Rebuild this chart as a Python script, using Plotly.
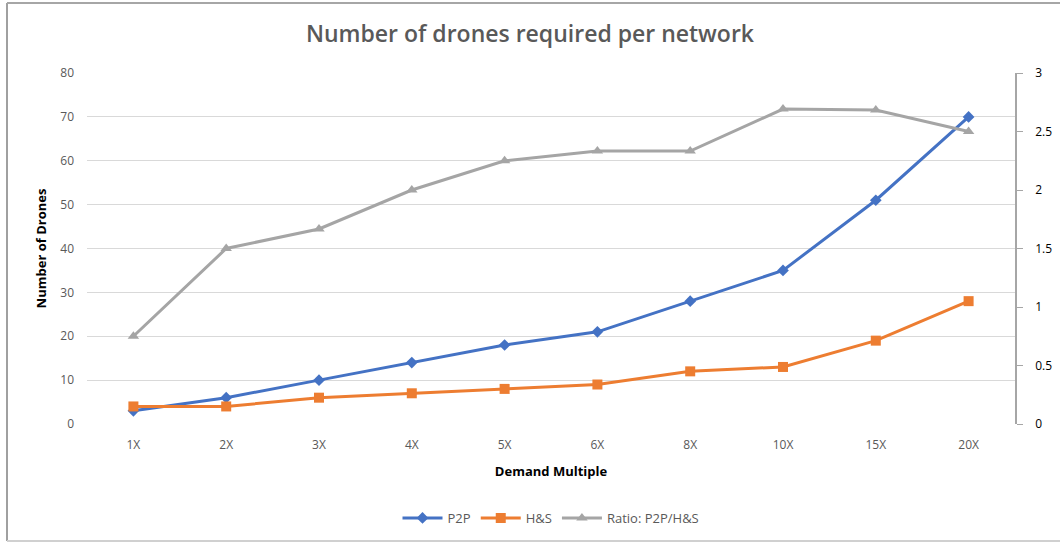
import plotly.graph_objects as go

categories = ["1X", "2X", "3X", "4X", "5X", "6X", "8X", "10X", "15X", "20X"]
p2p = [3, 6, 10, 14, 18, 21, 28, 35, 51, 70]
hs = [4, 4, 6, 7, 8, 9, 12, 13, 19, 28]
ratio = [round(a / b, 3) for a, b in zip(p2p, hs)]

W, H = 1060, 543
L, R, T, B = 87, 45, 73, 119
pw, ph = W - L - R, H - T - B

def px(x):
    return (x - L) / pw

def py(y):
    return (H - B - y) / ph

font_main = "Open Sans, Liberation Sans, sans-serif"
tick_col = "#595959"

fig = go.Figure()
fig.add_trace(go.Scatter(x=categories, y=p2p, name="P2P", mode="lines+markers",
                         line=dict(color="#4472C4", width=3),
                         marker=dict(symbol="diamond", size=9, color="#4472C4")))
fig.add_trace(go.Scatter(x=categories, y=hs, name="H&S", mode="lines+markers",
                         line=dict(color="#ED7D31", width=3),
                         marker=dict(symbol="square", size=10, color="#ED7D31")))
fig.add_trace(go.Scatter(x=categories, y=ratio, name="Ratio: P2P/H&S", mode="lines+markers",
                         yaxis="y2",
                         line=dict(color="#A5A5A5", width=3),
                         marker=dict(symbol="triangle-up", size=10, color="#A5A5A5")))

border = [
    dict(x0=px(7), x1=px(7), y0=py(541), y1=py(3), color="#A0A0A0", width=2),
    dict(x0=px(7), x1=px(1060), y0=py(3), y1=py(3), color="#A6A6A6", width=2),
    dict(x0=px(7), x1=px(1060), y0=py(541), y1=py(541), color="#D0D0D0", width=2),
]
shapes = [dict(type="line", xref="paper", yref="paper", x0=b["x0"], x1=b["x1"],
               y0=b["y0"], y1=b["y1"], line=dict(color=b["color"], width=b["width"]),
               layer="below") for b in border]

fig.update_layout(
    width=W, height=H,
    margin=dict(l=L, r=R, t=T, b=B, autoexpand=False),
    paper_bgcolor="white", plot_bgcolor="white",
    font=dict(family=font_main, color=tick_col, size=12),
    title=dict(text="Number of drones required per network", x=0.5, xanchor="center",
               y=1 - 34 / H, yanchor="middle",
               font=dict(size=23, color="#595959", family=font_main, weight=600)),
    xaxis=dict(type="category", range=[-0.5, len(categories) - 0.5],
               showgrid=False, showline=False, ticks="", automargin=False,
               ticklabelstandoff=12,
               tickfont=dict(size=12, color=tick_col),
               title=dict(text="<b>Demand Multiple</b>", font=dict(size=13, color="black"), standoff=14)),
    yaxis=dict(range=[0, 80], dtick=10, showgrid=True, gridcolor="#D9D9D9", gridwidth=1,
               zeroline=False, showline=False, ticks="", automargin=False,
               ticklabelstandoff=12,
               tickfont=dict(size=12, color=tick_col),
               title=dict(text="<b>Number of Drones</b>", font=dict(size=13, color="black"), standoff=10)),
    yaxis2=dict(range=[0, 3], dtick=0.5, overlaying="y", side="right", showgrid=False,
                zeroline=False, showline=True, linecolor="#A6A6A6", linewidth=1.5,
                ticks="outside", ticklen=6, tickcolor="#A6A6A6", automargin=False,
                ticklabelstandoff=10,
                tickfont=dict(size=12, color="black")),
    legend=dict(orientation="h", x=px(551), xanchor="center", y=py(518), yanchor="middle",
                font=dict(size=13, color=tick_col), itemwidth=40),
    shapes=shapes,
)

fig.write_html("out.html")
